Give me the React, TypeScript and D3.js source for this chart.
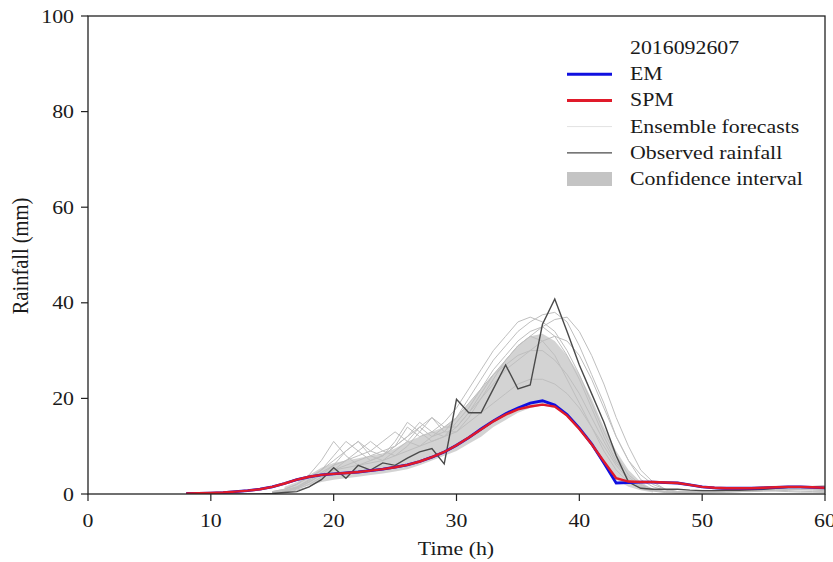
import React from "react";
import * as d3 from "d3";

const W = 833;
const H = 562;

// time axis
const xDomain = [0, 60];
const yDomain = [0, 100];
const xTicks = [0, 10, 20, 30, 40, 50, 60];
const yTicks = [0, 20, 40, 60, 80, 100];

const legendTitle = "2016092607";
const legendLabels = ["EM", "SPM", "Ensemble forecasts", "Observed rainfall", "Confidence interval"];

// observed rainfall, t = 8..60
const obsStart = 8;
const observed = [0, 0, 0, 0, 0, 0, 0, 0.1, 0.3, 0.5, 1.5, 3, 5.5, 3.3, 6, 5, 6.5, 6, 7.5, 8.8, 9.5, 6.3,
  19.8, 17, 17, 22, 27, 22, 22.8, 35.5, 40.8, 34, 27, 21, 15, 8, 2.5, 1.2, 1, 1, 1, 0.8, 0.7, 0.7, 0.8, 0.8,
  0.9, 1, 1.2, 1.4, 1.5, 1.5, 1.2];

// ensemble mean (EM), t = 8..60
const emStart = 8;
const em = [0.1, 0.15, 0.2, 0.3, 0.5, 0.7, 1, 1.5, 2.2, 3, 3.6, 4, 4.2, 4.4, 4.6, 4.9, 5.2, 5.6, 6.1, 6.8,
  7.7, 8.8, 10.2, 11.8, 13.6, 15.3, 16.8, 18, 19, 19.5, 18.6, 16.6, 13.8, 10.5, 6.5, 2.3, 2.4, 2.5, 2.5, 2.4,
  2.3, 1.9, 1.5, 1.3, 1.2, 1.2, 1.2, 1.3, 1.4, 1.5, 1.5, 1.4, 1.3];

// SPM, t = 8..60
const spm = [0.1, 0.15, 0.2, 0.3, 0.5, 0.7, 1, 1.5, 2.2, 3, 3.6, 4, 4.2, 4.4, 4.6, 4.9, 5.2, 5.6, 6.1, 6.8,
  7.7, 8.8, 10.2, 11.8, 13.5, 15.2, 16.6, 17.7, 18.3, 18.7, 18.3, 16.4, 13.6, 10.4, 6.8, 3.3, 2.6, 2.5, 2.5, 2.4,
  2.3, 1.9, 1.5, 1.3, 1.2, 1.2, 1.2, 1.3, 1.4, 1.5, 1.5, 1.4, 1.3];

// ensemble members, t = 15..60
const ensStart = 15;
const ensA = [0.5, 1, 2, 4, 7, 11, 8, 6, 7, 8, 10, 14, 12, 13, 15, 18, 22, 26, 30, 33, 36, 37, 36, 34, 30, 25, 19, 13, 8, 4, 2, 1, 0.5, 0.3,
  0.3, 0.4, 0.5, 0.6, 0.8, 0.9, 1, 1.1, 1, 0.9, 0.8, 0.7];
const ensB = [0.3, 0.6, 1.2, 2.5, 4, 6, 9, 11, 8, 7, 9, 11, 14, 12, 13, 16, 20, 24, 28, 31, 34, 36, 37.5, 38, 36, 31, 25, 19, 12, 7, 3, 1.5, 0.8, 0.4,
  0.4, 0.5, 0.6, 0.8, 1, 1.2, 1.3, 1.2, 1.1, 1, 1.2, 1.4];
const ensC = [0.4, 0.8, 1.5, 3, 5, 8, 11, 9, 7, 8, 11, 15, 13, 11, 12, 15, 18, 22, 26, 29, 32, 34, 35, 33, 29, 24, 18, 12, 7, 3, 1.5, 0.8, 0.4, 0.2,
  0.2, 0.3, 0.3, 0.4, 0.5, 0.6, 0.7, 0.8, 0.9, 1, 1.1, 1];
const ensD = [0.3, 0.6, 1.2, 2.5, 4, 5, 5.5, 6, 6.5, 7, 8, 9, 10, 11, 12, 13, 15, 17, 19, 21, 23, 24, 24, 23, 21, 18, 14, 10, 6, 3, 1.5, 0.8, 0.5, 0.3,
  0.3, 0.3, 0.4, 0.5, 0.5, 0.6, 0.7, 0.8, 0.7, 0.6, 0.5, 0.5];
const ensE = [0.2, 0.4, 0.8, 1.5, 3, 5, 7, 9, 11, 9, 8, 10, 13, 16, 14, 14, 17, 21, 25, 28, 31, 33, 35, 36.5, 37, 34, 29, 23, 16, 10, 5, 2.5, 1, 0.5,
  0.5, 0.6, 0.8, 1, 1.2, 1.3, 1.5, 1.6, 1.5, 1.4, 1.6, 1.8];
const ensF = [0.3, 0.7, 1.4, 2.8, 4.5, 6, 7, 8, 9, 11, 13, 11, 10, 12, 14, 16, 19, 22, 25, 27, 29, 30, 30, 28, 25, 21, 16, 11, 6.5, 3.5, 1.8, 1, 0.5, 0.3,
  0.2, 0.2, 0.3, 0.4, 0.5, 0.5, 0.6, 0.6, 0.5, 0.4, 0.4, 0.3];
const ensG = [0.5, 1, 2, 3.5, 5, 7, 9, 11, 9, 8, 10, 12, 14, 16, 13, 13, 16, 20, 24, 28, 31, 33, 32, 29, 24, 19, 14, 9, 5, 2.5, 1.2, 0.6, 0.3, 0.2,
  0.2, 0.3, 0.4, 0.6, 0.8, 1, 1.1, 1.2, 1.3, 1.4, 1.5, 1.6];
const ensH = [0.2, 0.5, 1, 2, 3.5, 5, 6, 7, 8, 9, 10, 12, 15, 13, 12, 14, 17, 20, 23, 26, 28, 30, 32, 33, 32, 29, 24, 18, 12, 7, 4, 2, 1, 0.5,
  0.4, 0.4, 0.5, 0.6, 0.7, 0.8, 0.9, 1, 1.1, 1.2, 1, 0.9];
const ensembles = [ensA, ensB, ensC, ensD, ensE, ensF, ensG, ensH];

// confidence interval, t = 16..46
const ciStart = 16;
const ciUpper = [1.5, 2.5, 4, 5.5, 6.5, 7, 7.5, 8, 8.5, 9.5, 11, 12, 13, 14, 16, 19, 22, 25, 28, 31, 33, 33.5, 32, 29, 25, 20, 14, 9, 5, 2.5, 1];
const ciLower = [0.5, 1, 1.8, 2.5, 3, 3.3, 3.6, 4, 4.3, 4.7, 5.2, 6, 7, 8, 9, 10.5, 12, 14, 15.5, 17, 18, 18.5, 18, 16.5, 13.5, 10, 6, 3, 1.5, 0.8, 0.3];

const FONT = "'Liberation Serif', 'Times New Roman', serif";
const FS = 19;
const SX = 1.15;

function Txt({ x, y, anchor = "start", children, rotate = 0, fs = FS }: any) {
  return (
    <g transform={`translate(${x},${y}) rotate(${rotate}) scale(${rotate ? 1 : SX},${rotate ? SX : 1})`}>
      <text textAnchor={anchor} fontFamily={FONT} fontSize={fs} fill="#1a1a1a">
        {children}
      </text>
    </g>
  );
}

export default function App() {
  const left = 88, right = 825, top = 16, bottom = 494;
  const x = d3.scaleLinear().domain(xDomain).range([left, right]);
  const y = d3.scaleLinear().domain(yDomain).range([bottom, top]);

  const line = (start: number) =>
    d3.line<number>().x((_, i) => x(start + i)).y((v) => y(v));

  const area = d3
    .area<number>()
    .x((_, i) => x(ciStart + i))
    .y0((_, i) => y(ciLower[i]))
    .y1((v) => y(v));

  const legX = 630;
  const legY0 = 54;
  const legDy = 26.2;

  return (
    <svg width={W} height={H} style={{ position: "absolute", left: 0, top: 0, background: "#fff" }}>
      <defs>
        <clipPath id="plot">
          <rect x={left} y={top} width={right - left} height={bottom - top} />
        </clipPath>
      </defs>
      <g clipPath="url(#plot)">
        <path d={area(ciUpper) || ""} fill="#c4c4c4" fillOpacity={0.75} />
        {ensembles.map((e, k) => (
          <path key={k} d={line(ensStart)(e) || ""} fill="none" stroke="#bfbfbf" strokeWidth={1} />
        ))}
        <path d={line(obsStart)(observed) || ""} fill="none" stroke="#4a4a4a" strokeWidth={1.4} />
        <path d={line(emStart)(em) || ""} fill="none" stroke="#1010e0" strokeWidth={2.8} />
        <path d={line(emStart)(spm) || ""} fill="none" stroke="#e01a2a" strokeWidth={2.4} />
      </g>

      {/* frame */}
      <rect x={left} y={top} width={right - left} height={bottom - top} fill="none" stroke="#222" strokeWidth={1.3} />

      {/* x ticks */}
      {xTicks.map((t) => (
        <g key={"x" + t}>
          <line x1={x(t)} x2={x(t)} y1={bottom} y2={bottom + 7} stroke="#222" strokeWidth={1.2} />
          <Txt x={x(t)} y={bottom + 33} anchor="middle">{t}</Txt>
        </g>
      ))}
      {/* y ticks */}
      {yTicks.map((t) => (
        <g key={"y" + t}>
          <line x1={left - 7} x2={left} y1={y(t)} y2={y(t)} stroke="#222" strokeWidth={1.2} />
          <Txt x={left - 14} y={y(t) + 6.5} anchor="end">{t}</Txt>
        </g>
      ))}

      <Txt x={456} y={555} anchor="middle">Time (h)</Txt>
      <Txt x={28} y={256} anchor="middle" rotate={-90} fs={20.5}>Rainfall (mm)</Txt>

      {/* legend */}
      <Txt x={legX} y={legY0}>{legendTitle}</Txt>
      <line x1={567} x2={612} y1={legY0 + legDy - 6} y2={legY0 + legDy - 6} stroke="#1010e0" strokeWidth={3} />
      <line x1={567} x2={612} y1={legY0 + 2 * legDy - 6} y2={legY0 + 2 * legDy - 6} stroke="#e01a2a" strokeWidth={3} />
      <line x1={567} x2={612} y1={legY0 + 3 * legDy - 6} y2={legY0 + 3 * legDy - 6} stroke="#e2e2e2" strokeWidth={1} />
      <line x1={567} x2={612} y1={legY0 + 4 * legDy - 6} y2={legY0 + 4 * legDy - 6} stroke="#4a4a4a" strokeWidth={1.3} />
      <rect x={567} y={legY0 + 5 * legDy - 13} width={45} height={14} fill="#c4c4c4" />
      {legendLabels.map((l, i) => (
        <Txt key={l} x={legX} y={legY0 + (i + 1) * legDy}>{l}</Txt>
      ))}
    </svg>
  );
}
